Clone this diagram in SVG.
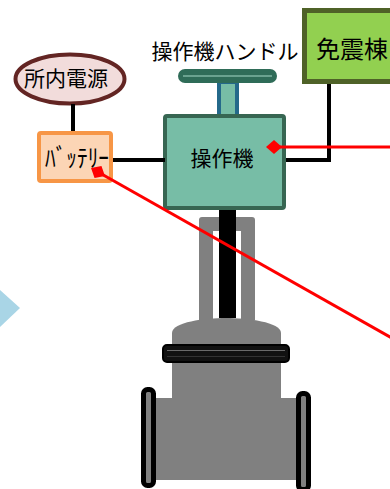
<svg xmlns="http://www.w3.org/2000/svg" width="390" height="489" viewBox="0 0 390 489">
  <style>
    .jp { font-family: "Noto Sans CJK JP", "Noto Sans", sans-serif; fill: #000; text-anchor: middle; }
    .wire { stroke: #000; stroke-width: 4; fill: none; }
    .sig { stroke: #ff0000; stroke-width: 3; fill: none; marker-start: url(#diamond); }
    .metal { fill: #808080; }
    .flange { fill: #808080; stroke: #000; stroke-width: 5; }
  </style>
  <defs>
    <marker id="diamond" viewBox="-8 -8 16 16" markerWidth="16" markerHeight="16" refX="0" refY="0" orient="auto" markerUnits="userSpaceOnUse">
      <path d="M-8,0 L0,-7 L8,0 L0,7 Z" fill="#ff0000"/>
    </marker>
  </defs>

  <rect width="390" height="489" fill="#fff"/>

  <!-- flow arrow at left edge -->
  <polygon points="0,290 20,308 0,327" fill="#a9d5e6"/>

  <!-- gate valve body -->
  <g id="valve">
    <rect class="metal" x="156" y="398" width="140" height="82"/>
    <path class="metal" d="M172,398 V333 C172,322 205,318 226,318 C247,318 281,322 281,333 V398 Z"/>
    <path class="metal" d="M199,320 V220 Q199,217 202,217 H252 Q255,217 255,220 V320 H241 V231 H213 V320 Z"/>
    <rect x="219" y="208" width="17" height="110" fill="#000"/>
    <rect x="163" y="345" width="126" height="17" rx="4" fill="#111" stroke="#000" stroke-width="2"/>
    <line x1="167" y1="350.5" x2="285" y2="350.5" stroke="#6a6a6a" stroke-width="1.2"/>
    <line x1="167" y1="356.5" x2="285" y2="356.5" stroke="#333" stroke-width="1"/>
    <rect class="flange" x="143.5" y="389.5" width="10" height="96" rx="4"/>
    <rect class="flange" x="298.5" y="393.5" width="10" height="96" rx="4"/>
  </g>

  <!-- operator handle -->
  <g id="handle">
    <rect x="219" y="82" width="18" height="35" fill="#77bda6" stroke="#24698a" stroke-width="4"/>
    <rect x="178" y="69" width="99" height="14" rx="7" fill="#2f6c58"/>
    <line x1="183" y1="76" x2="272" y2="76" stroke="#a6d8c6" stroke-width="1"/>
    <text class="jp" x="225" y="59" font-size="21">操作機ハンドル</text>
  </g>

  <!-- actuator -->
  <g id="actuator">
    <rect x="165" y="116" width="119" height="92" rx="2" fill="#77bda6" stroke="#376652" stroke-width="4"/>
    <text class="jp" x="222" y="166" font-size="21">操作機</text>
  </g>

  <!-- in-house power -->
  <g id="power">
    <ellipse cx="70" cy="79" rx="54.5" ry="24.5" fill="#f2dcdb" stroke="#632523" stroke-width="4"/>
    <text class="jp" x="66" y="86" font-size="21">所内電源</text>
  </g>

  <!-- battery -->
  <g id="battery">
    <rect x="39" y="133" width="72" height="48" rx="2" fill="#fcd5b5" stroke="#f79646" stroke-width="4"/>
    <text class="jp" x="77" y="167" font-size="25" textLength="64" lengthAdjust="spacingAndGlyphs">ﾊﾞｯﾃﾘｰ</text>
  </g>

  <!-- seismic isolation building -->
  <g id="building">
    <rect x="304.5" y="10.5" width="92" height="71" fill="#92d050" stroke="#4f6228" stroke-width="5"/>
    <text class="jp" x="352" y="58" font-size="24">免震棟</text>
  </g>

  <!-- connectors -->
  <g id="connectors">
    <line class="wire" x1="73" y1="104" x2="73" y2="131"/>
    <line class="wire" x1="113" y1="160" x2="165" y2="160"/>
    <path class="wire" d="M329,84 V160 H286"/>
    <line class="sig" x1="274" y1="147" x2="395" y2="147"/>
    <line class="sig" x1="98" y1="172" x2="400" y2="342.6"/>
  </g>
</svg>
